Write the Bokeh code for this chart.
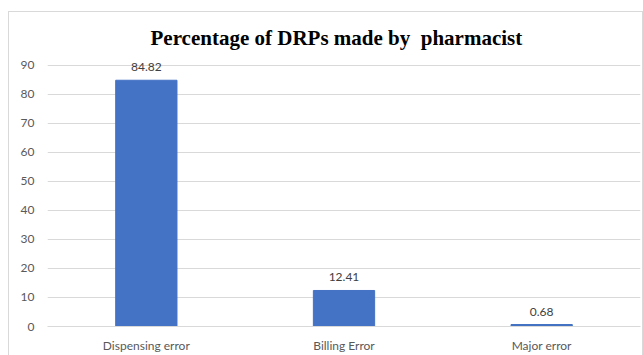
from bokeh.plotting import figure
from bokeh.models import ColumnDataSource, LabelSet, Range1d, FixedTicker
from bokeh.core.properties import value
from bokeh.embed import file_html
from bokeh.resources import INLINE

categories = ["Dispensing error", "Billing Error", "Major error"]
values = [84.82, 12.41, 0.68]
value_labels = ["84.82", "12.41", "0.68"]
y_ticks = [0, 10, 20, 30, 40, 50, 60, 70, 80, 90]

src = ColumnDataSource(dict(cat=categories, val=values, lab=value_labels))

p = figure(x_range=categories, y_range=Range1d(0, 93),
           width=633, height=343, output_backend="svg", toolbar_location=None,
           min_border_left=38, min_border_right=2, min_border_top=44, min_border_bottom=20,
           margin=(12, 0, 0, 9), styles={"outline": "1px solid #d9d9d9"},
           title="Percentage of DRPs made by\u00a0 pharmacist")
p.title.text_font = "Liberation Serif"
p.title.text_font_style = "bold"
p.title.text_font_size = "21px"
p.title.text_color = "#000000"
p.title.align = "left"
p.title.offset = 103
p.title.standoff = 13

p.vbar(x="cat", top="val", width=0.31, source=src, color="#4472C4")

labels = LabelSet(x="cat", y="val", text="lab", source=src, text_align="center",
                  text_baseline="bottom", y_offset=9, text_font=value("Lato"),
                  text_font_size="12px", text_color="#404040")
p.add_layout(labels)

p.outline_line_color = None
p.xgrid.grid_line_color = None
p.ygrid.grid_line_color = "#d9d9d9"
p.ygrid.ticker = FixedTicker(ticks=y_ticks)
p.yaxis.ticker = FixedTicker(ticks=y_ticks)

for ax in (p.xaxis[0], p.yaxis[0]):
    ax.major_tick_line_color = None
    ax.minor_tick_line_color = None
    ax.major_label_text_font = "Lato"
    ax.major_label_text_font_size = "12px"
    ax.major_label_text_color = "#595959"
p.yaxis.axis_line_color = None
p.xaxis.axis_line_color = "#d9d9d9"
p.yaxis.major_label_standoff = 7
p.xaxis.major_label_standoff = 5

open("out.html", "w").write(file_html(p, INLINE))
